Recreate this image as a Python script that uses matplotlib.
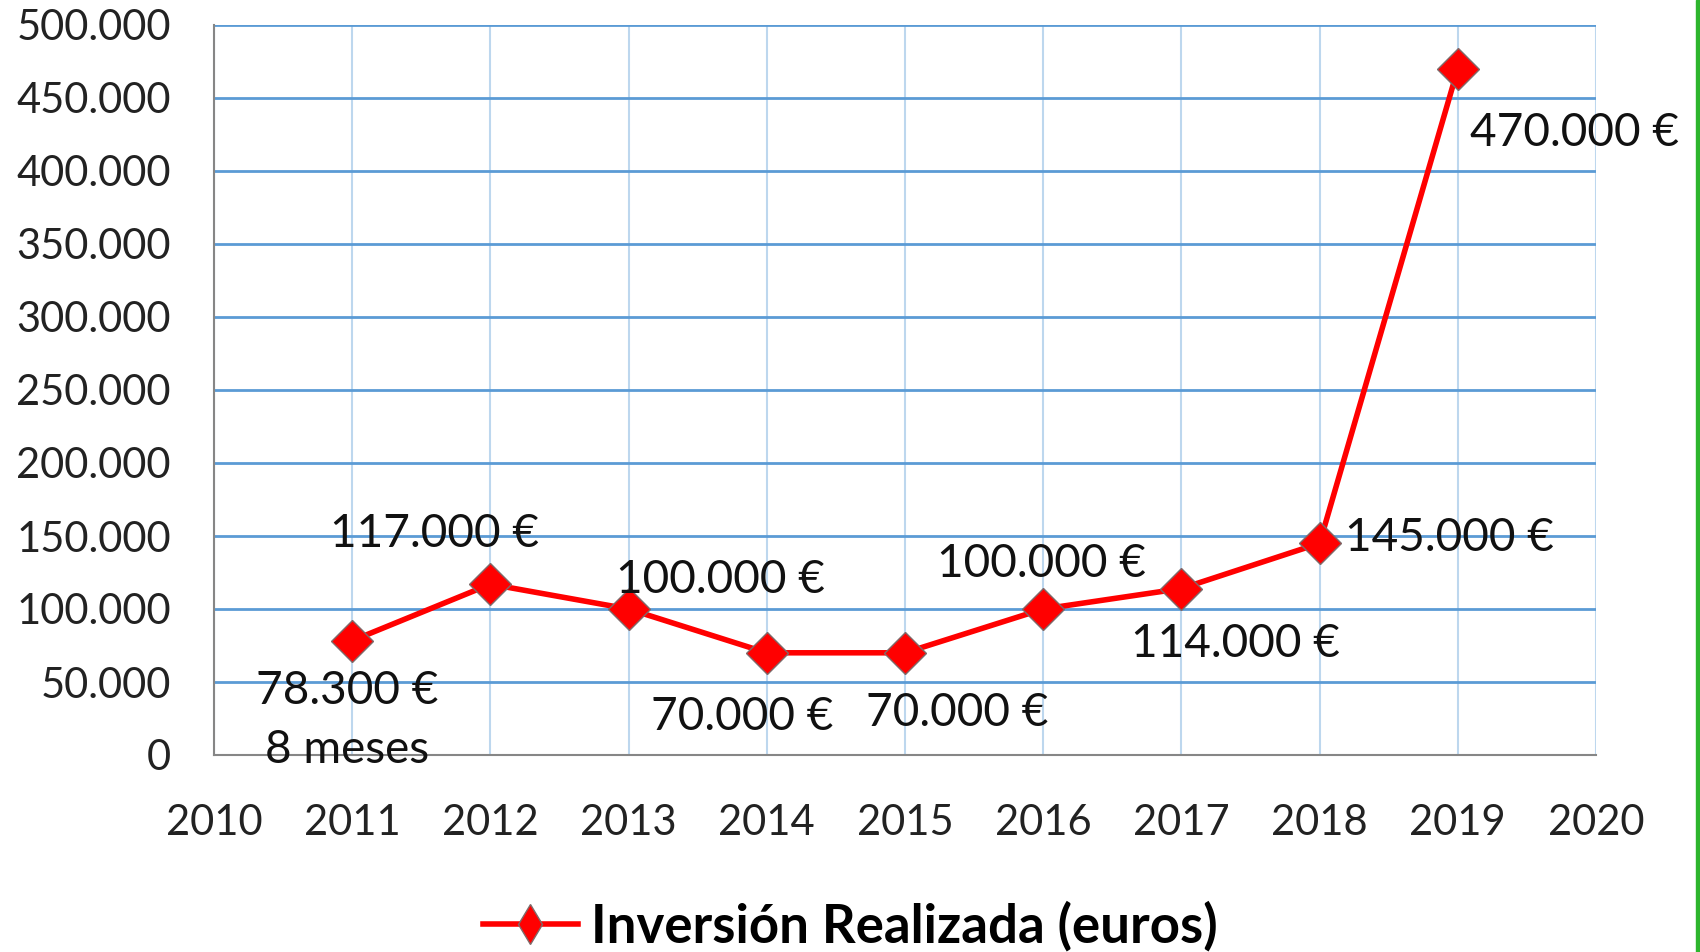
#!/usr/bin/env python3
"""Inversión realizada por año (euros), línea con marcadores rombo."""

import matplotlib
matplotlib.use("Agg")
import matplotlib.pyplot as plt
from matplotlib.lines import Line2D
from matplotlib.patches import Rectangle

years = [2011, 2012, 2013, 2014, 2015, 2016, 2017, 2018, 2019]
investment = [78300, 117000, 100000, 70000, 70000, 100000, 114000, 145000, 470000]
label_notes = {2011: "8 meses"}
y_ticks = [0, 50000, 100000, 150000, 200000, 250000, 300000, 350000, 400000, 450000, 500000]
x_ticks = list(range(2010, 2021))
series_name = "Inversión Realizada (euros)"

# label placement (pixel offsets from the marker, alignment)
label_offsets = [(-5, -80, "center"), (-56, 50, "center"), (92, 29, "center"),
                 (-25, -64, "center"), (52, -60, "center"), (-2, 45, "center"),
                 (54, -55, "center"), (25, 5, "left"), (12, -64, "left")]

RED = "#FF0000"
FONT = "Lato"


def fmt_thousands(v):
    return f"{v:,.0f}".replace(",", ".")


plt.rcParams["font.family"] = [FONT, "DejaVu Sans"]

fig = plt.figure(figsize=(17, 9.52), dpi=100)
ax = fig.add_axes([214 / 1700, 1 - 755 / 952, (1596 - 214) / 1700, (755 - 25) / 952])

ax.plot(years, investment, color=RED, linewidth=4.0, marker="D", markersize=21,
        markerfacecolor=RED, markeredgecolor="#7f6a6a", markeredgewidth=1.0, zorder=5)

for yr, val, (dx, dy, ha) in zip(years, investment, label_offsets):
    text = f"{fmt_thousands(val)} €"
    if yr in label_notes:
        text += "\n" + label_notes[yr]
    ax.annotate(text, (yr, val), xytext=(dx, dy), textcoords="offset pixels",
                ha=ha, va="center", fontsize=33, color="#111111",
                linespacing=1.5, zorder=6)

ax.set_xlim(2010, 2020)
ax.set_ylim(0, 500000)
ax.set_xticks(x_ticks)
ax.set_yticks(y_ticks)
ax.set_yticklabels([fmt_thousands(v) for v in y_ticks])

ax.grid(axis="y", color="#5B9BD5", linewidth=2.0)
ax.grid(axis="x", color="#BDD7EE", linewidth=1.5)
ax.set_axisbelow(True)

for side in ("top", "right"):
    ax.spines[side].set_visible(False)
for side in ("left", "bottom"):
    ax.spines[side].set_color("#868686")
    ax.spines[side].set_linewidth(1.5)
    ax.spines[side].set_zorder(3)

ax.tick_params(axis="y", length=0, pad=31, labelsize=30, labelcolor="#222222")
ax.tick_params(axis="x", length=0, pad=35, labelsize=30, labelcolor="#222222")

handle = Line2D([], [], color=RED, linewidth=4.0, marker="d", markersize=20,
                markerfacecolor=RED, markeredgecolor="#7f6a6a", markeredgewidth=1.0)
fig.legend([handle], [series_name], loc="center", bbox_to_anchor=(0.5, 1 - 926 / 952),
           frameon=False, handlelength=1.8, handletextpad=0.25,
           prop={"family": [FONT, "DejaVu Sans"], "weight": "bold", "size": 38})

# green frame edge at the right border of the original capture
fig.patches.append(Rectangle((1696 / 1700, 0), 4 / 1700, 1, transform=fig.transFigure,
                             color="#2DB52D", zorder=10))

fig.savefig("out.png", dpi=100)
